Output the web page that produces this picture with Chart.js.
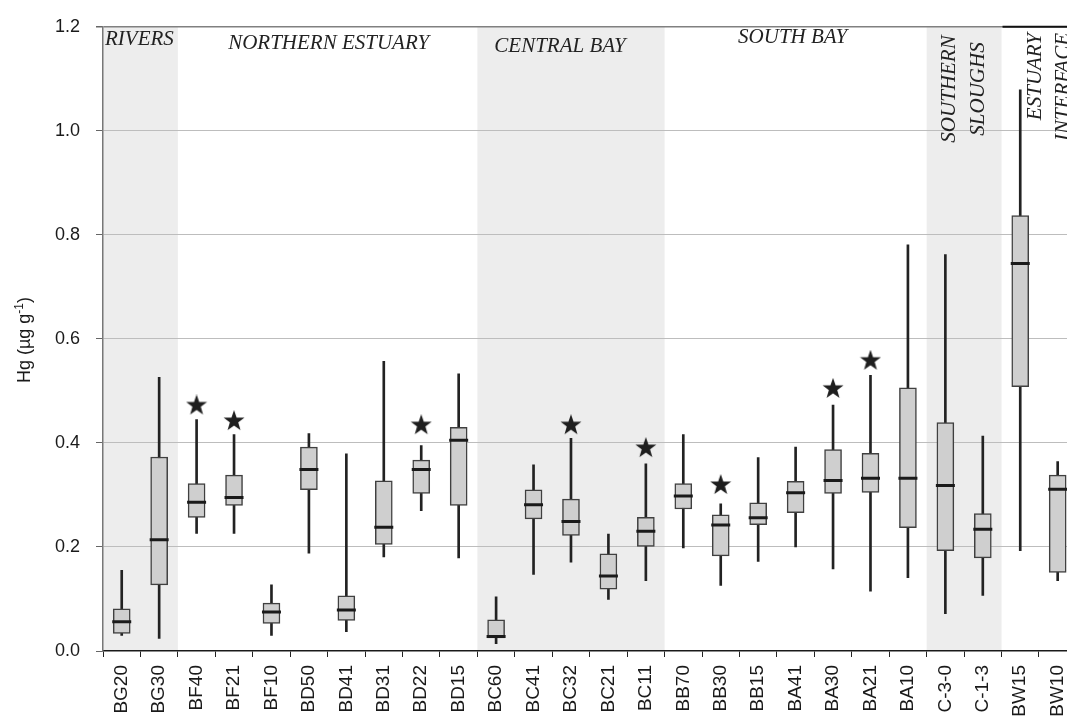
<!DOCTYPE html>
<html>
<head>
<meta charset="utf-8">
<title>Hg stations</title>
<script src="https://cdn.jsdelivr.net/npm/chart.js@4.4.1/dist/chart.umd.min.js"></script>
<style>
  html, body { margin: 0; padding: 0; background: #ffffff; overflow: hidden; }
  #complete { width: 1090px; height: 719px; }
</style>
</head>
<body>
<div id="complete"><canvas id="hg_chart" width="1090" height="719"></canvas></div>
<script>
//
// data (Hg in ug/g)
//
var stations = ['BG20', 'BG30', 'BF40', 'BF21', 'BF10', 'BD50', 'BD41', 'BD31', 'BD22', 'BD15',
                'BC60', 'BC41', 'BC32', 'BC21', 'BC11', 'BB70', 'BB30', 'BB15', 'BA41', 'BA30',
                'BA21', 'BA10', 'C-3-0', 'C-1-3', 'BW15', 'BW10'];
var whisker_low = [0.030, 0.024, 0.226, 0.226, 0.030, 0.188, 0.037, 0.181, 0.270, 0.179,
                   0.014, 0.147, 0.171, 0.099, 0.135, 0.198, 0.126, 0.172, 0.200, 0.158,
                   0.115, 0.141, 0.072, 0.107, 0.193, 0.135];
var quart_low = [0.034, 0.127, 0.257, 0.280, 0.053, 0.310, 0.059, 0.205, 0.303, 0.280,
                 0.025, 0.254, 0.222, 0.119, 0.201, 0.273, 0.183, 0.243, 0.266, 0.303,
                 0.305, 0.237, 0.193, 0.179, 0.508, 0.151];
var medians = [0.056, 0.214, 0.286, 0.295, 0.075, 0.349, 0.079, 0.238, 0.349, 0.405,
               0.028, 0.281, 0.249, 0.144, 0.230, 0.298, 0.242, 0.256, 0.304, 0.328,
               0.332, 0.332, 0.318, 0.234, 0.745, 0.311];
var quart_high = [0.081, 0.373, 0.322, 0.338, 0.092, 0.392, 0.106, 0.327, 0.367, 0.430,
                  0.060, 0.310, 0.292, 0.187, 0.257, 0.322, 0.262, 0.285, 0.326, 0.387,
                  0.380, 0.506, 0.439, 0.264, 0.837, 0.338];
var whisker_high = [0.155, 0.526, 0.445, 0.416, 0.127, 0.418, 0.379, 0.557, 0.395, 0.533,
                    0.104, 0.358, 0.409, 0.225, 0.360, 0.416, 0.283, 0.372, 0.392, 0.473,
                    0.530, 0.781, 0.762, 0.413, 1.079, 0.364];
// stars above some stations, null = no star
var stars = [null, null, 0.473, 0.443, null, null, null, null, 0.435, null,
             null, null, 0.435, null, 0.391, null, 0.320, null, null, 0.505,
             0.559, null, null, null, null, null];
var y_ticks = [0.0, 0.2, 0.4, 0.6, 0.8, 1.0, 1.2];

//
// regions (index of first and last station)
//
var region_names = ['RIVERS', 'NORTHERN ESTUARY', 'CENTRAL BAY', 'SOUTH BAY',
                    'SOUTHERN\nSLOUGHS', 'ESTUARY\nINTERFACE'];
var region_first = [0, 2, 10, 15, 22, 24];
var region_last = [1, 9, 14, 21, 23, 25];
var region_shaded = [true, false, true, false, true, false];

var hg_chart = undefined;
var label_font = 'italic 21px "Liberation Serif", "Times New Roman", serif';

//
// a filled five pointed star as point style
//
function makeStar() {
  var c = document.createElement('canvas');
  c.width = 22;
  c.height = 21;
  var ctx = c.getContext('2d');
  var r_out = 11, r_in = 4.4;
  ctx.beginPath();
  for (var i = 0; i < 10; i++) {
    var r = (i % 2 == 0) ? r_out : r_in;
    var a = -Math.PI / 2 + i * Math.PI / 5;
    var px = 11 + r * Math.cos(a);
    var py = 11 + r * Math.sin(a);
    if (i == 0) ctx.moveTo(px, py); else ctx.lineTo(px, py);
  }
  ctx.closePath();
  ctx.fillStyle = '#1e1e1e';
  ctx.fill();
  return c;
}

function regionEdges(x, i) {
  var half = (x.getPixelForValue(1) - x.getPixelForValue(0)) / 2;
  return [x.getPixelForValue(region_first[i]) - half, x.getPixelForValue(region_last[i]) + half];
}

//
// shaded regions behind the grid
//
var shade_plugin = {
  id: 'shade',
  beforeDraw: function(chart) {
    var ctx = chart.ctx, a = chart.chartArea, x = chart.scales.x;
    ctx.save();
    ctx.fillStyle = '#ededed';
    for (var i = 0; i < region_names.length; i++) {
      if (!region_shaded[i]) continue;
      var e = regionEdges(x, i);
      ctx.fillRect(e[0], a.top, e[1] - e[0], a.bottom - a.top);
    }
    ctx.restore();
  },
  afterDraw: function(chart) {
    var ctx = chart.ctx, a = chart.chartArea, x = chart.scales.x;
    ctx.save();
    // black top line over the estuary interface
    var e = regionEdges(x, 5);
    ctx.strokeStyle = '#111';
    ctx.lineWidth = 2;
    ctx.beginPath();
    ctx.moveTo(e[0] + 1, a.top);
    ctx.lineTo(a.right, a.top);
    ctx.stroke();

    // region names
    ctx.fillStyle = '#222';
    ctx.font = label_font;
    ctx.textBaseline = 'alphabetic';
    ctx.textAlign = 'left';
    ctx.fillText(region_names[0], a.left + 2, 45);
    ctx.textAlign = 'center';
    e = regionEdges(x, 1);
    ctx.fillText(region_names[1], (e[0] + e[1]) / 2 + 1, 49);
    e = regionEdges(x, 2);
    ctx.fillText(region_names[2], (e[0] + e[1]) / 2 - 11, 52);
    e = regionEdges(x, 3);
    ctx.fillText(region_names[3], (e[0] + e[1]) / 2 - 3, 43);

    // vertical names
    ctx.textBaseline = 'middle';
    var lines = region_names[4].split('\n');
    e = regionEdges(x, 4);
    var cx = (e[0] + e[1]) / 2;
    drawVertical(ctx, lines[0], cx - 15, 89, 'center');
    drawVertical(ctx, lines[1], cx + 14, 89, 'center');
    lines = region_names[5].split('\n');
    e = regionEdges(x, 5);
    drawVertical(ctx, lines[0], e[0] + 34, 33, 'right');
    drawVertical(ctx, lines[1], e[0] + 62, 33, 'right');

    // y axis title with superscript
    var t_main = 'Hg (\u00b5g g', t_sup = '-1', t_end = ')';
    ctx.font = '18px "Liberation Sans", Arial, sans-serif';
    var w1 = ctx.measureText(t_main).width;
    var w3 = ctx.measureText(t_end).width;
    ctx.font = '12px "Liberation Sans", Arial, sans-serif';
    var w2 = ctx.measureText(t_sup).width;
    var total = w1 + w2 + w3;
    ctx.translate(30, 340);
    ctx.rotate(-Math.PI / 2);
    ctx.textAlign = 'left';
    ctx.textBaseline = 'alphabetic';
    ctx.fillStyle = '#1a1a1a';
    ctx.font = '18px "Liberation Sans", Arial, sans-serif';
    ctx.fillText(t_main, -total / 2, 0);
    ctx.font = '12px "Liberation Sans", Arial, sans-serif';
    ctx.fillText(t_sup, -total / 2 + w1, -7);
    ctx.font = '18px "Liberation Sans", Arial, sans-serif';
    ctx.fillText(t_end, -total / 2 + w1 + w2, 0);
    ctx.restore();
  }
};

function drawVertical(ctx, text, px, py, align) {
  ctx.save();
  ctx.translate(px, py);
  ctx.rotate(-Math.PI / 2);
  ctx.textAlign = align;
  ctx.fillText(text, 0, 0);
  ctx.restore();
}

function init_page() {
  var whiskers = [], boxes = [];
  for (var i = 0; i < stations.length; i++) {
    whiskers.push([whisker_low[i], whisker_high[i]]);
    boxes.push([quart_low[i], quart_high[i]]);
  }

  var hg_chart_config = {
    type: 'bar',
    data: {
      labels: stations,
      datasets: [
        {
          // stars
          type: 'line',
          data: stars,
          showLine: false,
          pointStyle: makeStar(),
          pointRadius: 10,
          order: 1
        },
        {
          // median line
          type: 'line',
          data: medians,
          showLine: false,
          pointStyle: 'line',
          pointRadius: 9.5,
          pointBorderWidth: 3,
          pointBorderColor: '#1a1a1a',
          order: 2
        },
        {
          // box
          data: boxes,
          grouped: false,
          barThickness: 17,
          backgroundColor: '#cfcfcf',
          borderColor: '#404040',
          borderWidth: 1.5,
          borderSkipped: false,
          order: 3
        },
        {
          // whisker
          data: whiskers,
          grouped: false,
          barThickness: 2,
          backgroundColor: '#222222',
          borderWidth: 0,
          order: 4
        }
      ]
    },
    options: {
      responsive: false,
      maintainAspectRatio: false,
      animation: false,
      events: [],
      layout: { padding: { top: 18, right: 13.6, left: 0, bottom: 0 } },
      plugins: {
        legend: { display: false },
        tooltip: { enabled: false }
      },
      scales: {
        x: {
          offset: true,
          grid: {
            offset: true,
            drawOnChartArea: false,
            drawTicks: true,
            tickLength: 6,
            tickColor: '#222'
          },
          border: { color: '#1a1a1a', width: 1.5 },
          ticks: {
            autoSkip: false,
            minRotation: 90,
            maxRotation: 90,
            padding: 8,
            color: '#1a1a1a',
            font: { family: '"Liberation Sans", Arial, sans-serif', size: 19 }
          },
          afterFit: function(s) { s.height = 68; }
        },
        y: {
          min: 0,
          max: 1.2,
          afterBuildTicks: function(s) {
            s.ticks = y_ticks.map(function(v) { return { value: v }; });
          },
          ticks: {
            padding: 16,
            color: '#1a1a1a',
            font: { family: '"Liberation Sans", Arial, sans-serif', size: 18 },
            callback: function(v) { return Number(v).toFixed(1); }
          },
          grid: {
            color: function(c) {
              if (c.tick.value == 0) return 'rgba(0,0,0,0)';
              if (c.tick.value > 1.1) return '#808080';
              return '#bdbdbd';
            },
            lineWidth: function(c) { return c.tick.value > 1.1 ? 1.5 : 1; },
            tickLength: 7,
            tickColor: '#666'
          },
          border: { color: '#777', width: 1.5 },
          afterFit: function(s) { s.width = 103; }
        }
      }
    },
    plugins: [shade_plugin]
  };

  var ctx = document.getElementById('hg_chart').getContext('2d');
  hg_chart = new Chart(ctx, hg_chart_config);
}

init_page();
</script>
</body>
</html>
